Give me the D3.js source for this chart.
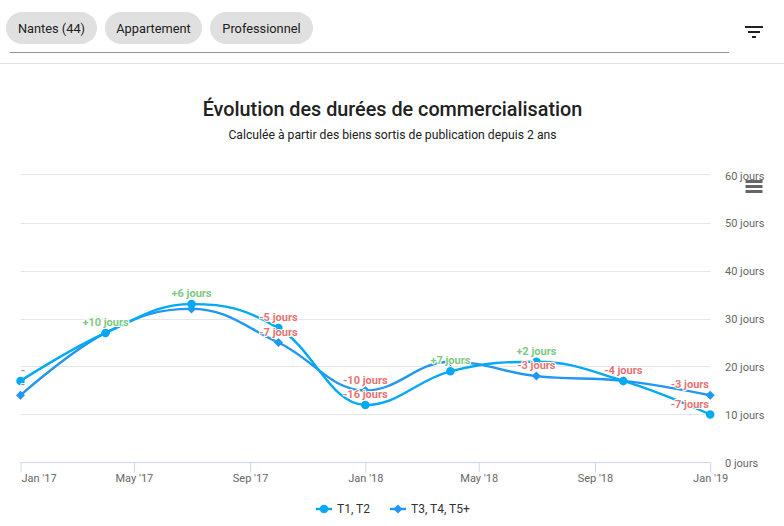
<!DOCTYPE html>
<html><head><meta charset="utf-8">
<script src="https://cdn.jsdelivr.net/npm/d3@7/dist/d3.min.js"></script>
<style>
html,body{margin:0;padding:0;background:#fff;overflow:hidden}
svg{display:block;font-family:Roboto,sans-serif}
</style></head><body><svg id="c" width="784" height="526"></svg>
<script>
const dates=["2017-01-01","2017-04-01","2017-07-01","2017-10-01","2018-01-01","2018-04-01","2018-07-01","2018-10-01","2019-01-01"];
const t1Values=[17,27,33,28,12,19,21,17,10];
const t3Values=[14,27,32,25,15,21,18,17,14];
const t1Labels=["-","+10 jours","+6 jours","-5 jours","-16 jours","+7 jours","+2 jours","-4 jours","-7 jours"];
const t3Labels=["-","","","-7 jours","-10 jours","","-3 jours","","-3 jours"];
const xTicks=["2017-01-01","2017-05-01","2017-09-01","2018-01-01","2018-05-01","2018-09-01","2019-01-01"];
const yTicks=[0,10,20,30,40,50,60];
const chips=[["Nantes (44)",6,91],["Appartement",105,97],["Professionnel",210,103]];
const seriesNames=["T1, T2","T3, T4, T5+"];
const titleText="Évolution des durées de commercialisation";
const subtitleText="Calculée à partir des biens sortis de publication depuis 2 ans";

const svg=d3.select("#c");
const parse=d3.utcParse("%Y-%m-%d");
const fmt=d3.utcFormat("%b '%y");
const x=d3.scaleUtc().domain([parse(dates[0]),parse(dates[8])]).range([20.5,710.2]);
const y=d3.scaleLinear().domain([0,60]).range([462.5,174.5]);
const c1="#03a9f4",c2="#2196f3";
const gridNudge={60:0,50:1,40:1,30:1,20:0,10:0};

// header
chips.forEach(([t,cx,w])=>{
  svg.append("rect").attr("x",cx).attr("y",12).attr("width",w).attr("height",32).attr("rx",16).attr("fill","#e0e0e0");
  svg.append("text").attr("x",cx+w/2).attr("y",33).attr("text-anchor","middle").attr("font-size",12.8).attr("fill","#212121").text(t);
});
svg.append("line").attr("x1",10).attr("x2",729).attr("y1",52.5).attr("y2",52.5).attr("stroke","#949494");
svg.append("line").attr("x1",0).attr("x2",784).attr("y1",63.5).attr("y2",63.5).attr("stroke","#e0e0e0");
[[745,18,26],[748,12,31],[752,4,36]].forEach(([a,w,b])=>svg.append("rect").attr("x",a).attr("y",b).attr("width",w).attr("height",2).attr("fill","#212121"));

// titles
svg.append("text").attr("x",392.5).attr("y",116).attr("text-anchor","middle").attr("font-size",19.8).attr("font-weight",500).attr("fill","#212121").text(titleText);
svg.append("text").attr("x",392.5).attr("y",139).attr("text-anchor","middle").attr("font-size",12.2).attr("fill","#212121").text(subtitleText);

// grid
svg.append("g").selectAll("line").data(yTicks.filter(d=>d>0)).join("line")
  .attr("x1",20.5).attr("x2",710.5).attr("y1",d=>y(d)+gridNudge[d]).attr("y2",d=>y(d)+gridNudge[d]).attr("stroke","#e6e6e6");

// y axis
const gy=svg.append("g").attr("transform","translate(725,0)").call(d3.axisRight(y).tickValues(yTicks).tickSize(0).tickPadding(0).tickFormat(d=>d+" jours"));
gy.select(".domain").remove();
gy.selectAll("text").attr("font-family","Roboto").attr("font-size",11).attr("fill","#666").attr("dy","0.32em").attr("y",d=>d===60?1:0);

// x axis
const gx=svg.append("g").attr("transform","translate(0,462.5)").call(d3.axisBottom(x).tickValues(xTicks.map(parse)).tickSize(10).tickPadding(0).tickFormat(fmt));
gx.select(".domain").attr("stroke","#ccd6eb").attr("d","M20.5,0H710.5");
gx.selectAll("line").attr("stroke","#ccd6eb");
gx.selectAll("text").attr("font-family","Roboto").attr("font-size",11).attr("fill","#666").attr("y",19).attr("dy",0);
gx.selectAll("text").filter((d,i)=>i===0).attr("text-anchor","start").attr("dx",0.5);

// Spline with smoothing like the original charting lib
function spline(vals){
  const pts=vals.map((v,i)=>({x:x(parse(dates[i])),y:y(v)}));
  const s=1.5,den=2.5;
  pts.forEach((p,i)=>{
    if(i===0||i===pts.length-1)return;
    const l=pts[i-1],n=pts[i+1];
    let lx=(s*p.x+l.x)/den,ly=(s*p.y+l.y)/den,rx=(s*p.x+n.x)/den,ry=(s*p.y+n.y)/den;
    const cor=((ry-ly)*(rx-p.x))/(rx-lx)+p.y-ry;
    ly+=cor;ry+=cor;
    if(ly>l.y&&ly>p.y){ly=Math.max(l.y,p.y);ry=2*p.y-ly;}
    else if(ly<l.y&&ly<p.y){ly=Math.min(l.y,p.y);ry=2*p.y-ly;}
    if(ry>n.y&&ry>p.y){ry=Math.max(n.y,p.y);ly=2*p.y-ry;}
    else if(ry<n.y&&ry<p.y){ry=Math.min(n.y,p.y);ly=2*p.y-ry;}
    p.lx=lx;p.ly=ly;p.rx=rx;p.ry=ry;
  });
  const path=d3.path();
  path.moveTo(pts[0].x,pts[0].y);
  for(let i=1;i<pts.length;i++){
    const a=pts[i-1],b=pts[i];
    path.bezierCurveTo(a.rx??a.x,a.ry??a.y,b.lx??b.x,b.ly??b.y,b.x,b.y);
  }
  return path.toString();
}
const circleSym=d3.symbol().type(d3.symbolCircle).size(Math.PI*18);
const diamond=d=>"M0,-4.5L4.5,0L0,4.5L-4.5,0Z";

[[t3Values,c2,diamond],[t1Values,c1,circleSym]].forEach(([vals,col,sym])=>{
  svg.append("path").attr("d",spline(vals)).attr("fill","none").attr("stroke",col).attr("stroke-width",2.4).attr("stroke-linecap","round");
  svg.append("g").selectAll("path").data(vals).join("path")
    .attr("transform",(d,i)=>`translate(${x(parse(dates[i]))},${y(d)})`).attr("d",sym).attr("fill",col);
});

// data labels
[[t3Values,t3Labels],[t1Values,t1Labels]].forEach(([vals,labs])=>{
  vals.forEach((v,i)=>{
    const t=labs[i]; if(!t)return;
    const px=x(parse(dates[i]));
    const col=t[0]==="+"?"#81c784":t==="-"?"#9e8f8f":"#e57373";
    const el=svg.append("text").attr("y",y(v)-7).attr("font-size",11).attr("font-weight",700)
      .attr("fill",col).attr("stroke","#fff").attr("stroke-width",2).attr("stroke-linejoin","round")
      .attr("paint-order","stroke").text(t);
    if(i===8) el.attr("x",709).attr("text-anchor","end");
    else if(i===0) el.attr("x",23).attr("text-anchor","middle");
    else el.attr("x",px).attr("text-anchor","middle");
  });
});

// legend
[[316,c1,circleSym,337],[390,c2,diamond,411]].forEach(([lx,col,sym,tx],i)=>{
  svg.append("line").attr("x1",lx).attr("x2",lx+16).attr("y1",509).attr("y2",509).attr("stroke",col).attr("stroke-width",2.4);
  svg.append("path").attr("transform",`translate(${lx+8},509)`).attr("d",sym).attr("fill",col);
  svg.append("text").attr("x",tx).attr("y",513).attr("font-size",12).attr("fill","#333").text(seriesNames[i]);
});

// menu icon
[181.5,186.5,191.5].forEach(b=>svg.append("line").attr("x1",745.5).attr("x2",762.5).attr("y1",b).attr("y2",b).attr("stroke","#666").attr("stroke-width",3));
</script></body></html>
